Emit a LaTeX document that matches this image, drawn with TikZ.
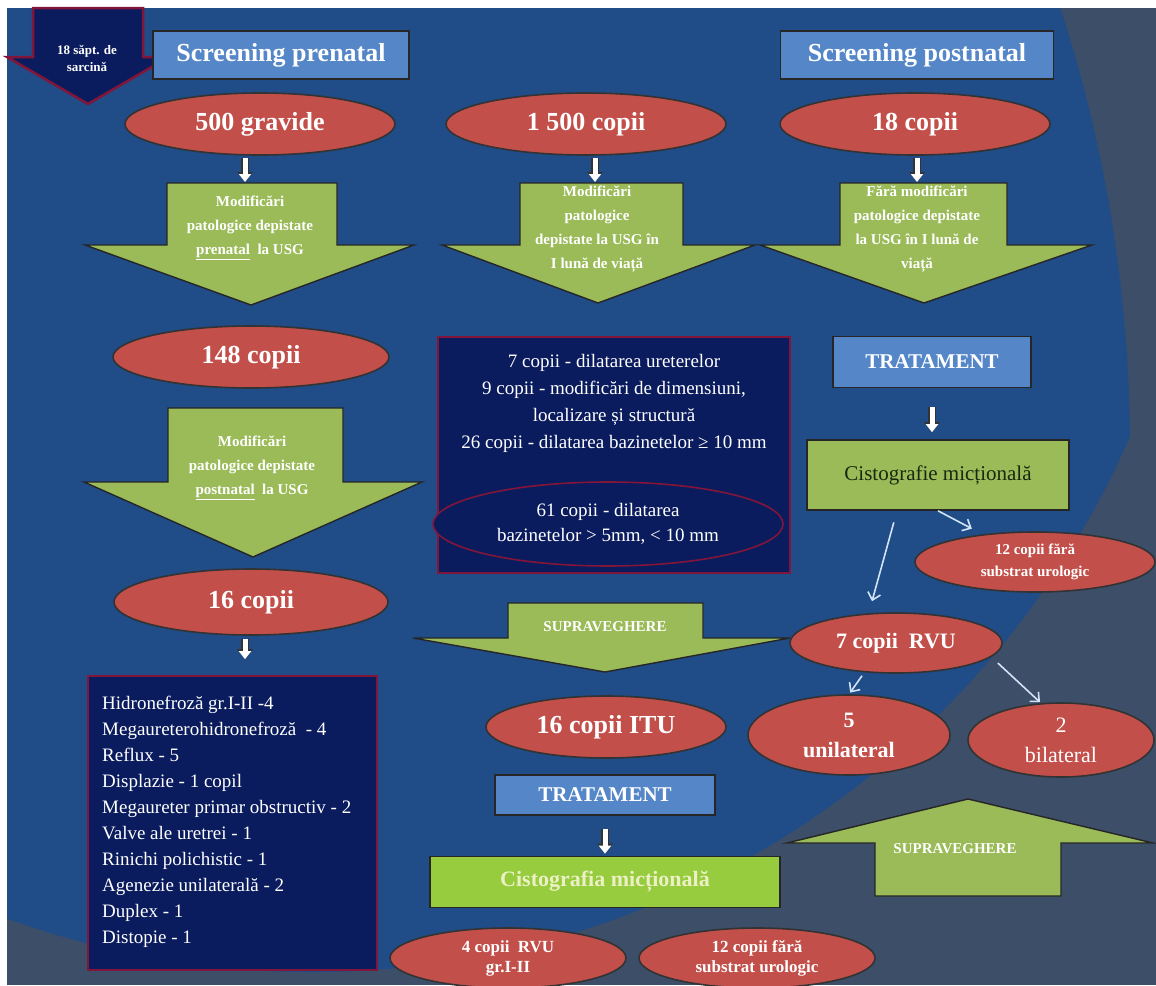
\documentclass[tikz,border=0pt]{standalone}
\usepackage{fontspec}
\setmainfont{Liberation Serif}
\usetikzlibrary{shapes.geometric,arrows.meta,calc}

\definecolor{bgblue}{RGB}{32,76,136}
\definecolor{bggray}{RGB}{60,78,104}
\definecolor{navy}{RGB}{10,28,94}
\definecolor{crimson}{RGB}{130,22,58}
\definecolor{redell}{RGB}{194,79,74}
\definecolor{olive}{RGB}{155,187,89}
\definecolor{lime}{RGB}{150,204,62}
\definecolor{steel}{RGB}{84,134,200}
\definecolor{cisttext}{RGB}{25,40,15}
\definecolor{palecream}{RGB}{236,240,196}
\definecolor{arrwhite}{RGB}{210,228,245}

\newcommand{\fsz}[2]{\fontsize{#1}{#2}\selectfont}

\begin{document}
\begin{tikzpicture}[x=1pt,y=-1pt,
  oval/.style={ellipse,draw=black!80,line width=1.6pt,fill=redell,text=white,inner sep=0pt,align=center},
  lbox/.style={rectangle,draw=black!85,line width=1.6pt,fill=steel,text=white,inner sep=0pt},
  dbox/.style={rectangle,draw=crimson,line width=1.6pt,fill=navy,text=white},
  garrow/.style={fill=olive,draw=black!85,line width=1.4pt,line join=miter},
  gtext/.style={text=white,align=center,inner sep=0pt,font=\fsz{15}{24}\bfseries},
  blockarr/.style={draw=white,line width=5pt,-{Triangle[width=12pt,length=8pt]},
    preaction={draw=black!80,line width=7.5pt,-{Triangle[width=15pt,length=10pt]}}},
  wline/.style={draw=arrwhite,line width=1.6pt,-{Straight Barb[length=7pt,width=13pt]}}]
\useasboundingbox (0,0) rectangle (1156,985);
%background
\fill[white] (0,0) rectangle (1156,985);
\begin{scope}
\clip (7,8) rectangle (1156,985);
\fill[bggray] (7,8) rectangle (1156,985);
\clip (-300,450) circle [radius=1430pt];
\fill[bgblue] (312,80) circle [radius=892pt];
\end{scope}

%headers
\filldraw[fill=navy,draw=crimson,line width=2.5pt] (33,8) -- (143,8) -- (143,57) -- (169,57) -- (88,104) -- (7,57) -- (33,57) -- cycle;
\node[text=white,align=center,font=\fsz{13}{17}\bfseries] (sapt) at (87,58) {18 săpt. de\\sarcină};
\node[lbox,minimum width=256pt,minimum height=48pt,font=\fsz{26}{30}\bfseries] (prenat) at (281,55) {Screening prenatal};
\node[lbox,minimum width=273pt,minimum height=48pt,font=\fsz{26}{30}\bfseries] (postnat) at (917,55) {Screening postnatal};

%first row
\node[oval,minimum width=270pt,minimum height=62pt,font=\fsz{26}{30}\bfseries] (gravide) at (260,124) {500 gravide};
\node[oval,minimum width=280pt,minimum height=62pt,font=\fsz{26}{30}\bfseries] (copii1500) at (586,124) {1 500 copii};
\node[oval,minimum width=270pt,minimum height=62pt,font=\fsz{26}{30}\bfseries] (copii18) at (915,124) {18 copii};

%green arrows
\filldraw[garrow] (167,183) -- (337,183) -- (337,245) -- (414,245) -- (251,305) -- (85,245) -- (167,245) -- cycle;
\filldraw[garrow] (520,183) -- (683,183) -- (683,245) -- (755,245) -- (598,303) -- (442,245) -- (520,245) -- cycle;
\filldraw[garrow] (840,183) -- (1007,183) -- (1007,245) -- (1092,245) -- (924,303) -- (760,245) -- (840,245) -- cycle;
\filldraw[garrow] (168,408) -- (343,408) -- (343,482) -- (422,482) -- (253,557) -- (84,482) -- (168,482) -- cycle;
\coordinate (a1) at (245,183);
\coordinate (a2) at (595,183);
\coordinate (a3) at (917,183);
\node[gtext] (modpre) at (250,228) {Modificări\\patologice depistate\\\underline{prenatal}\ \ la USG};
\node[gtext] (modluna) at (597,229) {Modificări\\patologice\\depistate la USG în\\I lună de viață};
\node[gtext] (faramod) at (917,229) {Fără modificări\\patologice depistate\\la USG în I lună de\\viață};
\node[gtext] (modpost) at (252,468) {Modificări\\patologice depistate\\\underline{postnatal}\ \ la USG};

%left column
\node[oval,minimum width=276pt,minimum height=62pt,font=\fsz{26}{30}\bfseries] (copii148) at (251,357) {148 copii};
\node[oval,minimum width=274pt,minimum height=66pt,font=\fsz{26}{30}\bfseries] (copii16) at (251,602) {16 copii};
\node[dbox,minimum width=289pt,minimum height=294pt] (lista) at (232.5,823) {};
\node[anchor=west,text=white,align=left,inner sep=0pt,font=\fsz{19}{26}] (listatext) at (102,822)
  {Hidronefroză gr.I-II -4\\Megaureterohidronefroză\ \ - 4\\Reflux - 5\\Displazie - 1 copil\\Megaureter primar obstructiv - 2\\Valve ale uretrei - 1\\Rinichi polichistic - 1\\Agenezie unilaterală - 2\\Duplex - 1\\Distopie - 1};

%middle column
\node[dbox,minimum width=352pt,minimum height=236pt] (dilat) at (614,455) {};
\node[text=white,align=center,font=\fsz{19}{27}] (dilattext) at (614,403)
  {7 copii - dilatarea ureterelor\\9 copii - modificări de dimensiuni,\\localizare și structură\\26 copii - dilatarea bazinetelor ≥ 10 mm};
\node[ellipse,draw=crimson,line width=1.6pt,fill=navy,text=white,align=center,inner sep=0pt,minimum width=350pt,minimum height=84pt,font=\fsz{19}{25}] (bazin) at (608,524)
  {61 copii - dilatarea\\bazinetelor > 5mm, < 10 mm};
\filldraw[garrow] (508,603) -- (703,603) -- (703,638) -- (790,638) -- (605,672) -- (413,638) -- (508,638) -- cycle;
\node[gtext,font=\fsz{15}{18}\bfseries] (superv1) at (605,627) {SUPRAVEGHERE};
\node[oval,minimum width=240pt,minimum height=62pt,font=\fsz{26}{30}\bfseries] (itu16) at (606,727) {16 copii ITU};
\node[lbox,minimum width=220pt,minimum height=40pt,font=\fsz{21}{25}\bfseries] (trat2) at (605,795) {TRATAMENT};
\node[rectangle,draw=black!85,line width=1.6pt,fill=lime,text=palecream,minimum width=350pt,minimum height=51pt,font=\fsz{22}{26}\bfseries] (cist2) at (605,882) {Cistografia micțională};
\node[oval,minimum width=236pt,minimum height=60pt,font=\fsz{17}{20}\bfseries] (rvu4) at (508,958) {4 copii\ \ RVU\\gr.I-II};
\node[oval,minimum width=236pt,minimum height=60pt,font=\fsz{17}{20}\bfseries] (fara2) at (757,958) {12 copii fără\\substrat urologic};

%right column
\node[lbox,minimum width=198pt,minimum height=51pt,font=\fsz{21}{25}\bfseries] (trat1) at (932,362) {TRATAMENT};
\node[rectangle,draw=black!85,line width=1.6pt,fill=olive,text=cisttext,minimum width=262pt,minimum height=70pt,font=\fsz{21}{25}] (cist1) at (938,475) {Cistografie micțională};
\node[oval,minimum width=240pt,minimum height=60pt,font=\fsz{15}{22}\bfseries] (fara1) at (1035,562) {12 copii fără\\substrat urologic};
\node[oval,minimum width=212pt,minimum height=60pt,font=\fsz{22}{26}\bfseries] (rvu7) at (896,643) {7 copii\ \ RVU};
\node[oval,minimum width=202pt,minimum height=80pt,font=\fsz{22}{30}\bfseries] (uni5) at (849,735) {5\\unilateral};
\node[oval,minimum width=186pt,minimum height=74pt,font=\fsz{22}{30}] (bil2) at (1061,740) {2\\bilateral};
\filldraw[garrow] (875,896) -- (1061,896) -- (1061,843) -- (1153,843) -- (968,799) -- (787,843) -- (875,843) -- cycle;
\node[gtext,font=\fsz{15}{18}\bfseries] (superv2) at (955,849) {SUPRAVEGHERE};

%small arrows
\draw[blockarr,shorten <=2pt,shorten >=1pt] (a1 |- gravide.south) -- (a1);
\draw[blockarr,shorten <=2pt,shorten >=1pt] (a2 |- copii1500.south) -- (a2);
\draw[blockarr,shorten <=2pt,shorten >=1pt] (a3 |- copii18.south) -- (a3);
\draw[blockarr,shorten <=3pt,shorten >=16pt] (a1 |- copii16.south) -- (a1 |- lista.north);
\draw[blockarr,shorten <=19pt,shorten >=7pt] (trat1.south) -- (trat1.south |- cist1.north);
\draw[blockarr,shorten <=13pt,shorten >=2pt] (trat2.south) -- (trat2.south |- cist2.north);

%thin arrows
\draw[wline,shorten >=12pt] (cist1.south) -- (fara1);
\draw[wline,shorten <=12pt] ($(cist1.south)+(-41,0)$) -- ($(rvu7.north)+(-24,-11)$);
\draw[wline,shorten >=2pt] ($(rvu7.south)+(-34,2)$) -- (uni5.north);
\draw[wline] ($(rvu7.east)+(-5,20)$) -- ($(bil2.north)+(-21,0)$);
\end{tikzpicture}
\end{document}
